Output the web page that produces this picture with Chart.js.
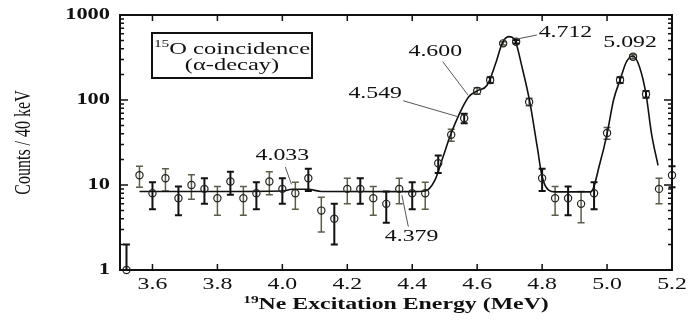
<!DOCTYPE html>
<html>
<head>
<meta charset="utf-8">
<script src="https://cdn.jsdelivr.net/npm/chart.js@4"></script>
<style>
  html, body { margin: 0; padding: 0; background: #fff; }
</style>
</head>
<body>
<canvas id="chart" width="695" height="325"></canvas>
<script>
// ---------- Data ----------
const energies = [3.52, 3.56, 3.60, 3.64, 3.68, 3.72, 3.76, 3.80, 3.84, 3.88, 3.92, 3.96,
  4.00, 4.04, 4.08, 4.12, 4.16, 4.20, 4.24, 4.28, 4.32, 4.36, 4.40, 4.44, 4.48, 4.52,
  4.56, 4.60, 4.64, 4.68, 4.72, 4.76, 4.80, 4.84, 4.88, 4.92, 4.96, 5.00, 5.04, 5.08,
  5.12, 5.16, 5.20];
const counts = [1, 13, 8, 12, 7, 10, 9, 7, 11, 7, 8, 11,
  9, 8, 12, 5, 4, 9, 9, 7, 6, 9, 8, 8, 18, 39,
  61, 128, 172, 464, 485, 95, 12, 7, 7, 6, 8, 41, 172, 323,
  117, 9, 13];
const errors = [1, 3.6, 2.8, 3.5, 2.6, 3.2, 3, 2.6, 3.3, 2.6, 2.8, 3.3,
  3, 2.8, 3.5, 2.2, 2, 3, 3, 2.6, 2.4, 3, 2.8, 2.8, 4.2, 6.2,
  7.8, 11.3, 13.1, 21.5, 22, 9.7, 3.5, 2.6, 2.6, 2.4, 2.8, 6.4, 13.1, 18,
  10.8, 3, 3.6];

// fitted curve
const fitX = [3.56, 3.80, 4.00, 4.03, 4.08, 4.12, 4.40, 4.44, 4.47, 4.495, 4.517, 4.543,
  4.574, 4.60, 4.631, 4.657, 4.677, 4.697, 4.718, 4.738, 4.762, 4.785, 4.80, 4.82,
  4.84, 4.95, 4.978, 5.00, 5.02, 5.04, 5.06, 5.08, 5.10, 5.12, 5.137, 5.157];
const fitY = [8.4, 8.4, 8.5, 8.9, 8.9, 8.4, 8.35, 8.5, 11.4, 21.5, 38, 66,
  109, 128, 150, 270, 464, 556, 485, 245, 95, 28, 12.5, 8.7,
  8.3, 8.3, 18, 40, 100, 172, 282, 330, 245, 117, 40, 17];

const xTicks = [3.6, 3.8, 4.0, 4.2, 4.4, 4.6, 4.8, 5.0, 5.2];
const yTicks = [1, 10, 100, 1000];

// level annotations: label, label position, leader line (data coords)
const annoText = ['4.033', '4.379', '4.549', '4.600', '4.712', '5.092'];
const annoX = [4.0, 4.398, 4.286, 4.471, 4.872, 5.071];
const annoY = [22.5, 2.47, 120, 370, 614, 472];
const leadFromX = [4.009, 4.368, 4.372, 4.494, 4.723, null];
const leadFromY = [16.3, 7.6, 98, 282, 522, null];
const leadToX = [4.028, 4.388, 4.541, 4.572, 4.784, null];
const leadToY = [10.2, 3.23, 63.6, 114, 582, null];

// ---------- Text helpers ----------
const FONT = '"Liberation Serif", "Times New Roman", serif';
const SX = 1.4; // the source figure is stretched horizontally

function fontStr(size, bold) {
  return (bold ? 'bold ' : '') + size + 'px ' + FONT;
}

// parts: [[text, isSuperscript], ...]
function drawText(ctx, parts, x, y, align, size, bold, rotate) {
  ctx.save();
  ctx.textBaseline = 'middle';
  ctx.textAlign = 'left';
  let total = 0;
  const widths = parts.map(([t, sup]) => {
    ctx.font = fontStr(sup ? Math.round(size * 0.62) : size, bold);
    const w = ctx.measureText(t).width;
    total += w;
    return w;
  });
  ctx.translate(x, y);
  ctx.scale(SX, 1);
  if (rotate) ctx.rotate(-Math.PI / 2);
  let cx = align === 'right' ? -total : align === 'left' ? 0 : -total / 2;
  parts.forEach(([t, sup], i) => {
    ctx.font = fontStr(sup ? Math.round(size * 0.62) : size, bold);
    ctx.fillText(t, cx, sup ? -size * 0.3 : 0);
    cx += widths[i];
  });
  ctx.restore();
}

// ---------- Plugin: frame, ticks, error bars, labels ----------
const figurePlugin = {
  id: 'figure',
  beforeDatasetsDraw(chart) {
    const { ctx, scales: { x, y } } = chart;
    ctx.save();
    energies.forEach((e, i) => {
      const px = x.getPixelForValue(e);
      const lo = Math.max(counts[i] - errors[i], 1);
      const hi = counts[i] + errors[i];
      const y1 = y.getPixelForValue(lo);
      const y2 = y.getPixelForValue(hi);
      const dark = i % 2 === 0;
      ctx.strokeStyle = dark ? '#111' : '#5d5c48';
      ctx.lineWidth = dark ? 2 : 1.5;
      ctx.beginPath();
      ctx.moveTo(px, y1); ctx.lineTo(px, y2);
      if (counts[i] - errors[i] >= 1) { ctx.moveTo(px - 3.5, y1); ctx.lineTo(px + 3.5, y1); }
      ctx.moveTo(px - 3.5, y2); ctx.lineTo(px + 3.5, y2);
      ctx.stroke();
    });
    ctx.restore();
  },
  afterDraw(chart) {
    const { ctx, chartArea: a, scales: { x, y } } = chart;
    ctx.save();
    ctx.fillStyle = '#111';
    ctx.strokeStyle = '#111';

    // frame
    ctx.lineWidth = 2;
    ctx.strokeRect(a.left, a.top, a.right - a.left, a.bottom - a.top);

    // x ticks (top and bottom, inward)
    ctx.lineWidth = 1.5;
    ctx.beginPath();
    xTicks.forEach(v => {
      const px = x.getPixelForValue(v);
      ctx.moveTo(px, a.bottom); ctx.lineTo(px, a.bottom - 6);
      ctx.moveTo(px, a.top); ctx.lineTo(px, a.top + 6);
    });
    // y ticks (left and right, inward), minor 2..9
    for (let d = 1; d < 1000; d *= 10) {
      for (let m = 1; m <= 10; m++) {
        const py = y.getPixelForValue(d * m);
        const len = (m === 1 || m === 10) ? 8 : 4;
        ctx.moveTo(a.left, py); ctx.lineTo(a.left + len, py);
        ctx.moveTo(a.right, py); ctx.lineTo(a.right - len, py);
      }
    }
    ctx.stroke();

    // tick labels
    yTicks.forEach(v => {
      drawText(ctx, [[String(v), false]], a.left - 10, y.getPixelForValue(v), 'right', 16, true);
    });
    xTicks.forEach(v => {
      drawText(ctx, [[v.toFixed(1), false]], x.getPixelForValue(v), a.bottom + 15, 'center', 17, false);
    });

    // axis titles
    drawText(ctx, [['19', true], ['Ne Excitation Energy (MeV)', false]],
      (a.left + a.right) / 2, a.bottom + 35, 'center', 17, true);
    drawText(ctx, [['Counts / 40 keV', false]], 24, (a.top + a.bottom) / 2, 'center', 16, false, true);

    // legend box
    const bx = a.left + 32, by = a.top + 18, bw = 160, bh = 45;
    ctx.lineWidth = 2;
    ctx.strokeRect(bx, by, bw, bh);
    drawText(ctx, [['15', true], ['O coincidence', false]], bx + bw / 2, by + 16, 'center', 17.5, false);
    drawText(ctx, [['(\u03b1-decay)', false]], bx + bw / 2, by + 32, 'center', 17.5, false);

    // level annotations
    ctx.strokeStyle = '#555';
    ctx.lineWidth = 1;
    annoText.forEach((t, i) => {
      if (leadFromX[i] !== null) {
        ctx.beginPath();
        ctx.moveTo(x.getPixelForValue(leadFromX[i]), y.getPixelForValue(leadFromY[i]));
        ctx.lineTo(x.getPixelForValue(leadToX[i]), y.getPixelForValue(leadToY[i]));
        ctx.stroke();
      }
      drawText(ctx, [[t, false]], x.getPixelForValue(annoX[i]), y.getPixelForValue(annoY[i]), 'center', 17, false);
    });
    ctx.restore();
  }
};

// ---------- Chart ----------
const chart = new Chart(document.getElementById('chart'), {
  type: 'scatter',
  data: {
    datasets: [
      {
        label: 'fit',
        type: 'line',
        data: fitX.map((v, i) => ({ x: v, y: fitY[i] })),
        borderColor: '#111',
        borderWidth: 1.6,
        pointRadius: 0,
        fill: false,
        cubicInterpolationMode: 'monotone',
        order: 2
      },
      {
        label: 'data',
        data: energies.map((v, i) => ({ x: v, y: counts[i] })),
        pointStyle: 'circle',
        pointRadius: 3.6,
        pointBorderWidth: 1.2,
        pointBorderColor: '#222',
        pointBackgroundColor: 'rgba(255,255,255,0)',
        clip: false,
        order: 1
      }
    ]
  },
  options: {
    responsive: false,
    animation: false,
    layout: { padding: { left: 0, top: 15, right: 23, bottom: 0 } },
    plugins: { legend: { display: false }, tooltip: { enabled: false } },
    scales: {
      x: {
        type: 'linear', min: 3.5, max: 5.2,
        grid: { display: false }, border: { display: false },
        ticks: { display: false },
        afterFit: s => { s.height = 55; }
      },
      y: {
        type: 'logarithmic', min: 1, max: 1000,
        grid: { display: false }, border: { display: false },
        ticks: { display: false },
        afterFit: s => { s.width = 120; }
      }
    }
  },
  plugins: [figurePlugin]
});
</script>
</body>
</html>
